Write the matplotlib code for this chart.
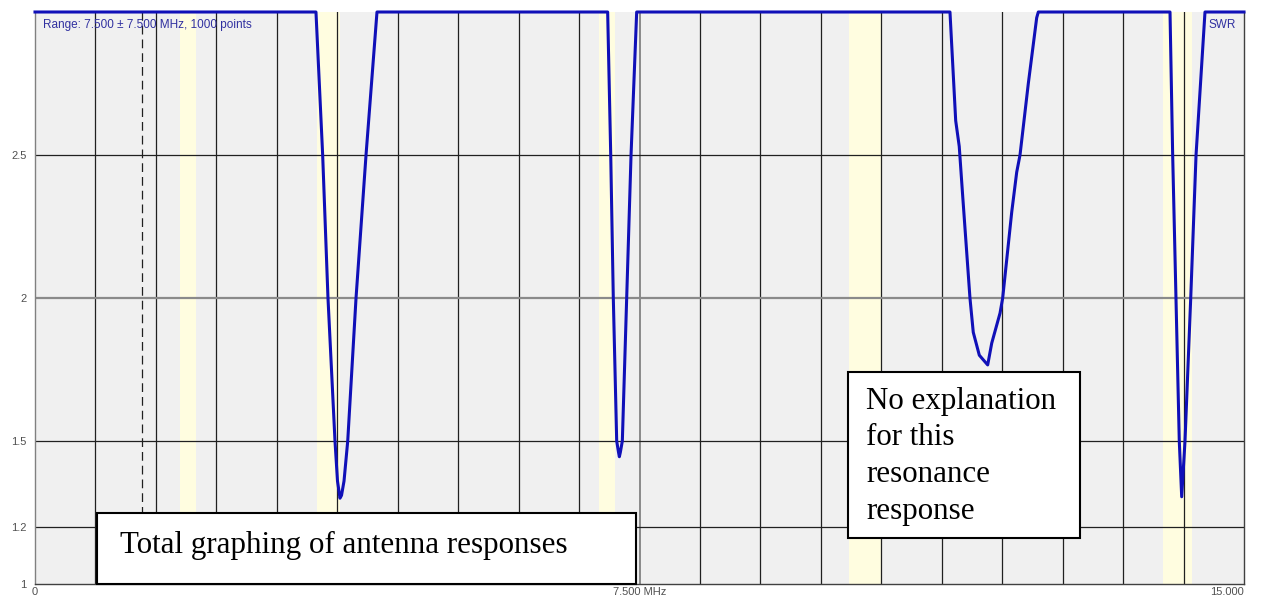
import matplotlib
matplotlib.use("Agg")
import matplotlib.pyplot as plt
from matplotlib.patches import Rectangle


# SWR sweep (MHz, SWR clipped at 3)
freq_mhz = [
    0.0,
    3.486, 3.569, 3.635, 3.722, 3.753, 3.784, 3.803, 3.834, 3.880, 3.983, 4.107, 4.243,
    7.105, 7.143, 7.175, 7.217, 7.240, 7.250, 7.262, 7.287, 7.341, 7.395, 7.465,
    11.352, 11.423, 11.467, 11.509, 11.600, 11.641, 11.716, 11.820, 11.870, 11.973,
    12.006, 12.118, 12.180, 12.221, 12.324, 12.428, 12.448,
    14.082, 14.115, 14.156, 14.197, 14.227, 14.268, 14.339, 14.405, 14.516,
    15.0,
]
swr_values = [
    3.0,
    3.0, 2.5, 2.0, 1.5, 1.36, 1.30, 1.31, 1.36, 1.5, 2.0, 2.5, 3.0,
    3.0, 2.5, 2.0, 1.5, 1.46, 1.445, 1.46, 1.5, 2.0, 2.5, 3.0,
    3.0, 2.62, 2.53, 2.36, 2.0, 1.88, 1.80, 1.766, 1.842, 1.947,
    2.0, 2.30, 2.44, 2.5, 2.75, 2.98, 3.0,
    3.0, 2.5, 2.0, 1.5, 1.305, 1.5, 2.0, 2.5, 3.0,
    3.0,
]

# amateur bands shaded on the display
band_starts = [1.80, 3.50, 7.00, 10.10, 14.00]
band_ends = [2.00, 3.78, 7.20, 10.50, 14.35]

marker_mhz = 1.324

y_ticks = [1, 1.2, 1.5, 2, 2.5]
y_tick_labels = ["1", "1.2", "1.5", "2", "2.5"]
x_ticks = [0, 7.5, 15]
x_tick_labels = ["0", "7.500 MHz", "15.000"]

range_text = "Range: 7.500 \u00b1 7.500 MHz, 1000 points"
note_left = "Total graphing of antenna responses"
note_right = "No explanation\nfor this\nresonance\nresponse"


def draw_grid(ax):
    for i in range(1, 20):
        x = i * 0.75
        if i == 10:
            ax.axvline(x, color="#8a8a8a", lw=1.4, zorder=2)
        else:
            ax.axvline(x, color="#202020", lw=0.9, zorder=2)
    for y in y_ticks[1:]:
        if y == 2:
            ax.axhline(y, color="#8a8a8a", lw=1.6, zorder=2)
        else:
            ax.axhline(y, color="#202020", lw=0.9, zorder=2)


def main():
    fig = plt.figure(figsize=(12.65, 5.99), dpi=100)
    ax = fig.add_axes([35 / 1265, 15 / 599, 1209 / 1265, 572 / 599])
    ax.set_facecolor("#f0f0f0")
    ax.set_xlim(0, 15)
    ax.set_ylim(1, 3)

    for start, end in zip(band_starts, band_ends):
        ax.axvspan(start, end, color="#fffde0", lw=0, zorder=1)

    draw_grid(ax)
    ax.axvline(marker_mhz, color="#202020", lw=0.9, ls=(0, (7, 4)), zorder=2)

    ax.plot(freq_mhz, swr_values, color="#1010b8", lw=2.2, zorder=4,
            solid_joinstyle="round", clip_on=False)

    ax.set_yticks(y_ticks)
    ax.set_yticklabels(y_tick_labels)
    ax.set_xticks(x_ticks)
    ax.set_xticklabels(x_tick_labels)
    ax.xaxis.get_majorticklabels()[2].set_horizontalalignment("right")
    ax.tick_params(axis="both", length=0, labelsize=8, labelcolor="#505050")
    ax.tick_params(axis="y", pad=6)
    ax.tick_params(axis="x", pad=2)
    for lab in ax.get_xticklabels() + ax.get_yticklabels():
        lab.set_family("Liberation Sans")

    for side in ["left", "bottom", "right"]:
        ax.spines[side].set_color("#404040")
        ax.spines[side].set_linewidth(1)
    ax.spines["left"].set_color("#808080")
    ax.spines["top"].set_visible(False)

    ax.text(0.105, 2.955, range_text, color="#3030a0", fontsize=8.5,
            family="Liberation Sans", va="center", ha="left", zorder=5)
    ax.text(14.90, 2.955, "SWR", color="#3030a0", fontsize=8.5,
            family="Liberation Sans", va="center", ha="right", zorder=5)

    ax.add_patch(Rectangle((0.769, 1.0), 6.688, 0.248, facecolor="white",
                           edgecolor="black", lw=1.5, zorder=6, clip_on=False))
    ax.text(1.055, 1.136, note_left, fontsize=22.3, family="Liberation Serif",
            va="center", ha="left", zorder=7)

    ax.add_patch(Rectangle((10.087, 1.161), 2.879, 0.580, facecolor="white",
                           edgecolor="black", lw=1.5, zorder=6))
    ax.text(10.31, 1.446, note_right, fontsize=22.3, family="Liberation Serif",
            va="center", ha="left", linespacing=1.36, zorder=7)

    fig.savefig("out.png", dpi=100, facecolor="white")


if __name__ == "__main__":
    main()
